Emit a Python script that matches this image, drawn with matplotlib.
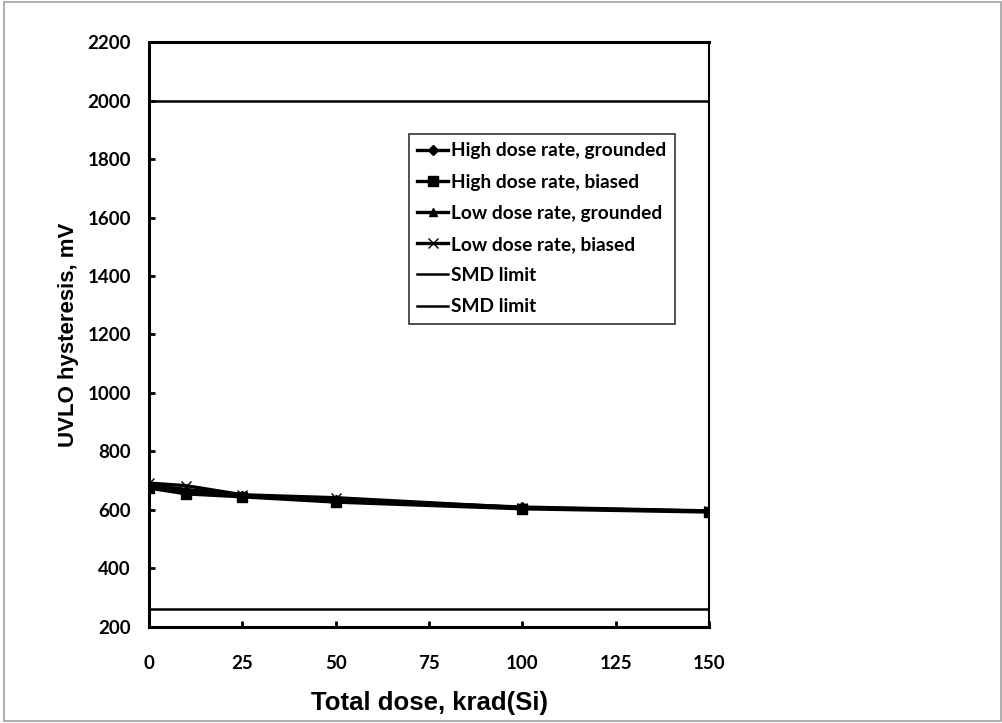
import matplotlib.pyplot as plt
from matplotlib.patches import Rectangle

# Dados
dose = [0, 10, 25, 50, 100, 150]
alta_aterrado = [680, 662, 648, 635, 610, 597]
alta_polarizado = [675, 655, 645, 627, 604, 593]
baixa_aterrado = [686, 670, 650, 638, 607, 595]
baixa_polarizado = [692, 683, 652, 642, 608, 596]
limite_smd = [2000, 262]

fonte_ticks = 'Lato'
fonte_rotulos = 'Liberation Sans'

fig = plt.figure(figsize=(10.03, 7.23), dpi=100)
ax = fig.add_axes([0.1486, 0.1328, 0.5583, 0.8091])

# Borda cinza da área do gráfico
fig.patches.append(Rectangle((0.004, 0.003), 0.994, 0.994, transform=fig.transFigure,
                             fill=False, edgecolor='#a0a0a0', linewidth=1.2))

ax.plot(dose, alta_aterrado, color='black', lw=2.4, marker='D', ms=5,
        label='High dose rate, grounded')
ax.plot(dose, alta_polarizado, color='black', lw=2.4, marker='s', ms=7,
        label='High dose rate, biased')
ax.plot(dose, baixa_aterrado, color='black', lw=2.4, marker='^', ms=6,
        label='Low dose rate, grounded')
ax.plot(dose, baixa_polarizado, color='black', lw=2.4, marker='x', ms=7, mew=1,
        label='Low dose rate, biased')
for lim in limite_smd:
    ax.axhline(lim, color='black', lw=1.8, label='SMD limit')

ax.set_xlim(0, 150)
ax.set_ylim(200, 2200)
ax.set_xticks([0, 25, 50, 75, 100, 125, 150])
ax.set_yticks(range(200, 2201, 200))
ax.tick_params(direction='in', length=4, width=2)
ax.tick_params(axis='x', pad=20)
ax.tick_params(axis='y', pad=13)
for lbl in ax.get_xticklabels() + ax.get_yticklabels():
    lbl.set_fontfamily(fonte_ticks)
    lbl.set_fontweight('bold')
    lbl.set_fontsize(13.5)

for s in ax.spines.values():
    s.set_linewidth(2.2)
ax.spines['right'].set_linewidth(1.5)

ax.set_xlabel('Total dose, krad(Si)', fontfamily=fonte_rotulos, fontweight='bold',
              fontsize=18.5, labelpad=14)
ax.set_ylabel('UVLO hysteresis, mV', fontfamily=fonte_rotulos, fontweight='bold',
              fontsize=16, labelpad=6)

leg = ax.legend(loc='upper left', bbox_to_anchor=(0.464, 0.843), frameon=True,
                fancybox=False, edgecolor='black', handlelength=1.6,
                handletextpad=0.15, labelspacing=0.74, borderpad=0.45,
                borderaxespad=0,
                prop={'family': fonte_ticks, 'weight': 'bold', 'size': 13.8})
leg.get_frame().set_linewidth(1.2)

plt.savefig('out.png', dpi=100)
